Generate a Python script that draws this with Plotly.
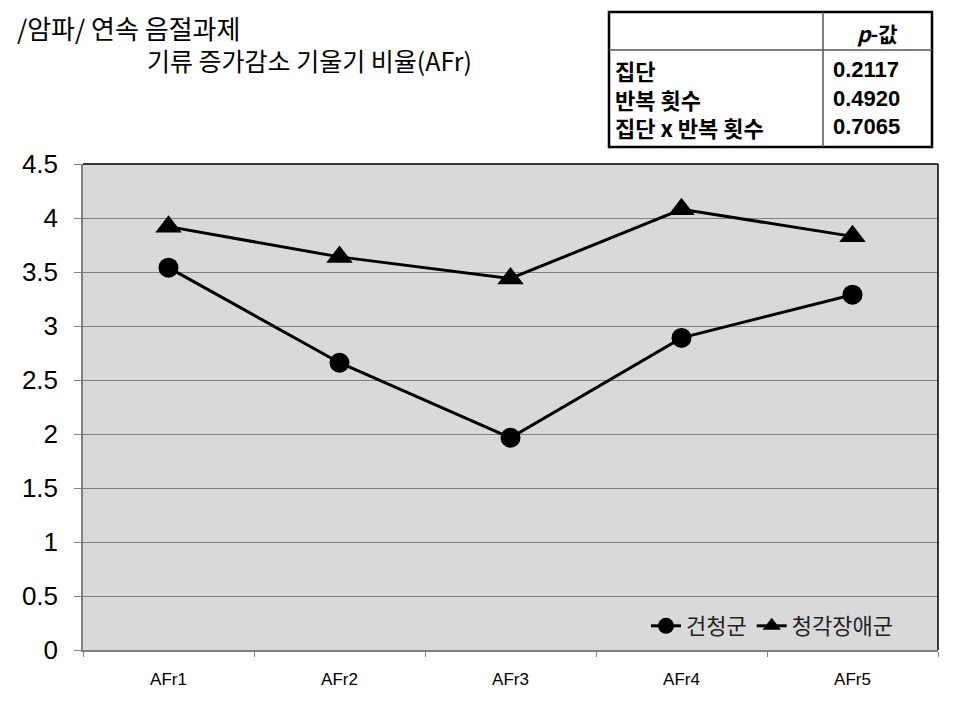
import plotly.graph_objects as go

categories = ["AFr1", "AFr2", "AFr3", "AFr4", "AFr5"]
normal_group = [3.54, 2.66, 1.965, 2.89, 3.29]
hearing_group = [3.92, 3.64, 3.44, 4.08, 3.83]
series_names = ["건청군", "청각장애군"]
y_ticks = [0, 0.5, 1, 1.5, 2, 2.5, 3, 3.5, 4, 4.5]
y_tick_labels = ["0", "0.5", "1", "1.5", "2", "2.5", "3", "3.5", "4", "4.5"]
table_rows = ["집단", "반복 횟수", "집단 x 반복 횟수"]
table_pvalues = ["0.2117", "0.4920", "0.7065"]

W, H = 962, 703
L, R, T, B = 83, 24, 164, 53
PW, PH = W - L - R, H - T - B

def px(x):
    return (x - L) / PW

def py(y):
    return (H - B - y) / PH

KFONT = "Noto Sans CJK KR"
NFONT = "Liberation Sans"

fig = go.Figure()
fig.add_trace(go.Scatter(
    x=categories, y=normal_group, name=series_names[0], mode="lines+markers",
    line=dict(color="black", width=3),
    marker=dict(symbol="circle", size=20, color="black"),
))
fig.add_trace(go.Scatter(
    x=categories, y=hearing_group, name=series_names[1], mode="lines+markers",
    line=dict(color="black", width=3),
    marker=dict(symbol="triangle-up", size=23, color="black"),
))

shapes = [
    dict(type="line", xref="paper", yref="paper", x0=0, x1=1, y0=1, y1=1,
         line=dict(color="black", width=1.5)),
    dict(type="line", xref="paper", yref="paper", x0=1, x1=1, y0=0, y1=1,
         line=dict(color="black", width=1.5)),
    dict(type="rect", xref="paper", yref="paper", x0=px(609), x1=px(932),
         y0=py(147), y1=py(12), line=dict(color="black", width=2.5)),
    dict(type="line", xref="paper", yref="paper", x0=px(823), x1=px(823),
         y0=py(147), y1=py(12), line=dict(color="#555555", width=1.5)),
    dict(type="line", xref="paper", yref="paper", x0=px(609), x1=px(932),
         y0=py(50), y1=py(50), line=dict(color="#555555", width=1.5)),
]

annotations = [
    dict(text="/암파/ 연속 음절과제", x=px(15), y=py(27), xanchor="left", yanchor="middle",
         font=dict(family=KFONT, size=26, color="black")),
    dict(text="기류 증가감소 기울기 비율(AFr)", x=px(145), y=py(60), xanchor="left", yanchor="middle",
         font=dict(family=KFONT, size=25, color="black")),
    dict(text="<b><i>p</i>-값</b>", x=px(877), y=py(33), xanchor="center", yanchor="middle",
         font=dict(family=KFONT, size=21, color="black")),
    dict(text="<br>".join(f"<b>{t}</b>" for t in table_rows), x=px(613), y=py(98),
         xanchor="left", yanchor="middle", align="left",
         font=dict(family=KFONT, size=22, color="black")),
    dict(text="<br>".join(f"<b>{t}</b>" for t in table_pvalues), x=px(831), y=py(98),
         xanchor="left", yanchor="middle", align="left",
         font=dict(family=NFONT, size=22, color="black")),
]
for a in annotations:
    a.update(xref="paper", yref="paper", showarrow=False)

fig.update_layout(
    width=W, height=H,
    margin=dict(l=L, r=R, t=T, b=B, pad=0),
    paper_bgcolor="white",
    plot_bgcolor="#d9d9d9",
    showlegend=True,
    legend=dict(orientation="h", x=px(646), y=py(626), xanchor="left", yanchor="middle",
                bgcolor="rgba(0,0,0,0)", font=dict(family=KFONT, size=22, color="#222222"),
                itemwidth=30, traceorder="normal"),
    shapes=shapes,
    annotations=annotations,
    xaxis=dict(
        type="category", range=[-0.5, 4.5], showgrid=False, showline=True,
        linecolor="#808080", linewidth=1.5, ticks="outside", tickson="boundaries",
        ticklen=5, tickcolor="#808080", ticklabelstandoff=13,
        tickfont=dict(family=NFONT, size=17, color="black"), zeroline=False,
    ),
    yaxis=dict(
        range=[0, 4.5], tickvals=y_ticks, ticktext=y_tick_labels,
        showgrid=True, gridcolor="#808080", gridwidth=1,
        showline=True, linecolor="#808080", linewidth=1.5,
        ticks="outside", ticklen=7, tickcolor="#808080", ticklabelstandoff=11,
        tickfont=dict(family=NFONT, size=26, color="black"), zeroline=False,
    ),
)

fig.write_html("out.html")
